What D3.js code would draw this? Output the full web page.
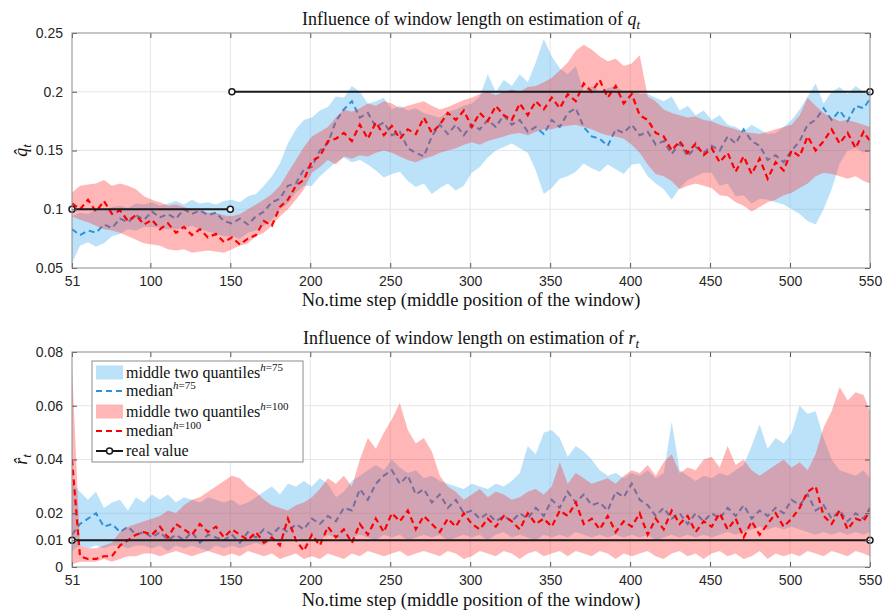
<!DOCTYPE html>
<html>
<head>
<meta charset="utf-8">
<script src="https://cdn.jsdelivr.net/npm/d3@7"></script>
<style>
  body { margin: 0; background: #fff; }
  svg { display: block; }
</style>
</head>
<body>
<div id="chart"></div>
<script>
// time steps (middle position of the window), sampled every 5 steps
const steps = d3.range(51, 547, 5).concat([550]);
const xTicks = [51, 100, 150, 200, 250, 300, 350, 400, 450, 500, 550];

// ---- q_t panel ----
const qTicks = [0.05, 0.1, 0.15, 0.2, 0.25];
const qTickLabels = ["0.05", "0.1", "0.15", "0.2", "0.25"];

const qBlueHi = [.094,.097,.096,.100,.099,.102,.103,.101,.105,.104,.106,.103,.105,.107,.104,.108,.105,.106,.104,.107,
  .108,.106,.111,.113,.120,.128,.139,.156,.168,.176,.178,.184,.187,.196,
  .195,.205,.200,.190,.192,.195,.185,.188,.184,.186,.182,.180,.178,.183,.185,.188,
  .190,.196,.215,.200,.210,.205,.215,.208,.225,.245,.230,.220,.215,.222,.200,.205,
  .200,.203,.205,.200,.201,.198,.198,.195,.192,.196,.184,.188,.180,.184,
  .176,.180,.172,.170,.166,.172,.168,.164,.165,.170,.176,.185,.196,.207,.190,.200,.204,.198,.205,.200,.198];
const qBlueLo = [.054,.069,.072,.068,.071,.077,.079,.083,.082,.085,.085,.084,.083,.083,.084,.086,.083,.081,.079,.077,
  .077,.075,.080,.082,.086,.091,.100,.105,.114,.120,.120,.128,.134,.140,
  .144,.140,.142,.138,.133,.127,.130,.132,.124,.119,.122,.113,.118,.122,.116,.120,
  .131,.136,.144,.150,.153,.156,.152,.148,.133,.113,.118,.126,.128,.132,.139,.135,
  .132,.138,.134,.130,.138,.139,.128,.122,.117,.108,.118,.125,.128,.131,
  .131,.120,.122,.111,.112,.105,.109,.108,.106,.104,.100,.096,.090,.087,.100,.117,.139,.150,.152,.148,.150];
const qBlueMed = [.083,.078,.082,.080,.087,.084,.092,.089,.095,.091,.098,.093,.096,.092,.100,.096,.099,.095,.097,.090,
  .088,.092,.087,.094,.098,.106,.109,.120,.122,.134,.136,.150,.156,.175,
  .185,.192,.178,.182,.170,.174,.163,.166,.152,.148,.145,.162,.172,.164,.172,.163,
  .172,.168,.176,.170,.180,.172,.176,.166,.170,.164,.176,.170,.182,.186,.170,.162,
  .160,.154,.168,.165,.172,.163,.166,.155,.158,.147,.156,.145,.153,.148,
  .154,.150,.162,.156,.168,.158,.154,.142,.146,.140,.150,.158,.172,.176,.186,.176,.184,.175,.188,.186,.194];
const qRedHi = [.114,.120,.121,.122,.125,.120,.122,.120,.117,.111,.108,.106,.103,.104,.102,.100,.099,.097,.097,.095,
  .094,.096,.100,.104,.108,.113,.120,.131,.142,.153,.162,.166,.170,.178,
  .185,.183,.186,.190,.188,.192,.190,.186,.188,.190,.192,.188,.185,.187,.190,.193,
  .195,.198,.200,.197,.200,.202,.200,.204,.205,.208,.212,.218,.225,.235,.240,.236,
  .230,.226,.228,.222,.224,.231,.196,.192,.185,.182,.180,.178,.179,.176,
  .175,.172,.170,.168,.166,.165,.164,.166,.168,.170,.172,.180,.195,.188,.182,.178,.175,.176,.174,.172,.170];
const qRedLo = [.094,.091,.089,.086,.083,.082,.080,.077,.074,.071,.070,.069,.066,.065,.066,.063,.064,.065,.064,.063,
  .066,.069,.071,.077,.080,.086,.094,.100,.108,.117,.131,.136,.142,.138,
  .145,.143,.146,.145,.148,.150,.148,.145,.142,.140,.143,.145,.148,.150,.152,.155,
  .157,.155,.158,.160,.162,.164,.165,.163,.166,.168,.168,.170,.171,.172,.170,.168,
  .165,.163,.162,.160,.155,.148,.138,.130,.128,.124,.117,.120,.122,.120,
  .118,.112,.111,.106,.103,.098,.102,.106,.108,.112,.114,.118,.122,.128,.131,.130,.128,.126,.128,.124,.122];
const qRedMed = [.105,.100,.108,.098,.107,.096,.099,.090,.095,.087,.091,.083,.088,.080,.085,.078,.083,.076,.079,.072,
  .076,.070,.075,.078,.090,.086,.102,.108,.120,.125,.141,.145,.158,.160,
  .165,.158,.172,.160,.174,.163,.171,.160,.168,.164,.178,.165,.172,.182,.176,.184,
  .170,.182,.175,.188,.180,.176,.190,.180,.192,.185,.195,.186,.198,.192,.207,.200,
  .210,.195,.205,.190,.198,.180,.176,.165,.162,.150,.158,.148,.156,.146,
  .152,.140,.148,.132,.145,.130,.143,.126,.140,.133,.150,.145,.162,.150,.158,.168,.156,.165,.152,.166,.158];
const qReal = [[[51, 0.1], [150, 0.1]], [[151, 0.2], [550, 0.2]]];

// ---- r_t panel ----
const rTicks = [0, 0.01, 0.02, 0.04, 0.06, 0.08];
const rTickLabels = ["0", "0.01", "0.02", "0.04", "0.06", "0.08"];

const rBlueHi = [.031,.028,.025,.028,.022,.024,.025,.021,.026,.024,
  .027,.025,.027,.024,.026,.025,.024,.026,.025,.024,
  .025,.023,.024,.026,.028,.030,.027,.031,.030,.032,
  .030,.033,.031,.026,.028,.032,.034,.036,.038,.036,
  .040,.037,.035,.036,.033,.034,.032,.031,.030,.029,
  .031,.030,.029,.031,.030,.032,.035,.045,.042,.050,
  .051,.048,.041,.045,.043,.040,.036,.034,.035,.033,
  .035,.034,.036,.033,.035,.054,.036,.034,.032,.034,
  .033,.035,.034,.036,.038,.045,.053,.044,.048,.046,
  .050,.060,.057,.058,.048,.040,.036,.035,.034,.036,.033];
const rBlueLo = [.006,.008,.007,.008,.007,.008,.008,.007,.008,.008,
  .007,.008,.006,.008,.007,.008,.007,.006,.008,.007,
  .008,.007,.008,.009,.008,.010,.009,.010,.011,.010,
  .011,.010,.012,.011,.010,.011,.012,.011,.010,.012,
  .011,.012,.010,.011,.012,.011,.012,.010,.011,.012,
  .011,.012,.010,.012,.013,.011,.012,.011,.010,.012,
  .011,.012,.011,.013,.012,.011,.012,.011,.012,.011,
  .012,.011,.012,.010,.011,.012,.011,.012,.011,.012,
  .011,.012,.013,.012,.013,.014,.015,.014,.015,.014,
  .015,.014,.013,.012,.013,.012,.013,.012,.013,.012,.013];
const rBlueMed = [.012,.016,.018,.020,.015,.016,.013,.015,.012,.013,
  .011,.013,.010,.012,.010,.013,.009,.012,.011,.010,
  .012,.009,.013,.011,.014,.012,.015,.013,.016,.014,
  .018,.016,.019,.017,.022,.021,.029,.025,.031,.034,
  .036,.031,.034,.027,.029,.024,.027,.022,.025,.020,
  .021,.018,.020,.017,.019,.017,.020,.018,.022,.019,
  .025,.022,.028,.024,.027,.023,.024,.021,.028,.026,
  .031,.025,.023,.019,.022,.018,.020,.016,.020,.017,
  .020,.018,.022,.019,.023,.018,.021,.019,.022,.020,
  .025,.023,.027,.021,.023,.018,.021,.017,.020,.018,.022];
const rRedHi = [.075,.008,.007,.007,.008,.009,.013,.015,.016,.017,
  .018,.019,.021,.020,.023,.025,.026,.028,.030,.032,
  .034,.033,.030,.028,.025,.023,.022,.021,.023,.024,
  .026,.029,.033,.031,.034,.030,.040,.048,.044,.050,
  .055,.061,.051,.046,.048,.043,.034,.030,.028,.025,
  .027,.029,.026,.028,.027,.025,.026,.028,.029,.027,
  .030,.039,.031,.035,.033,.031,.032,.033,.031,.034,
  .036,.035,.038,.034,.039,.042,.035,.037,.036,.040,
  .041,.037,.045,.038,.040,.036,.034,.036,.038,.040,
  .037,.039,.036,.042,.052,.058,.067,.062,.065,.064,.058];
const rRedLo = [.001,.002,.002,.002,.003,.002,.003,.004,.004,.005,
  .005,.004,.005,.006,.005,.004,.005,.006,.005,.004,
  .005,.004,.006,.005,.004,.005,.003,.004,.005,.003,
  .004,.003,.005,.004,.003,.005,.004,.006,.005,.004,
  .005,.006,.004,.005,.006,.005,.004,.006,.005,.003,
  .004,.006,.005,.004,.006,.005,.003,.005,.006,.004,
  .005,.006,.004,.006,.005,.004,.006,.005,.003,.005,
  .004,.005,.006,.004,.003,.005,.006,.004,.005,.003,
  .005,.006,.004,.005,.003,.004,.006,.003,.005,.004,
  .005,.004,.006,.005,.004,.006,.005,.004,.006,.005,.004];
const rRedMed = [.040,.004,.003,.003,.004,.004,.008,.010,.012,.013,
  .012,.015,.011,.016,.014,.012,.016,.013,.015,.011,
  .014,.012,.010,.013,.009,.011,.008,.018,.010,.006,
  .012,.008,.015,.011,.014,.009,.016,.012,.018,.013,
  .020,.017,.021,.014,.019,.016,.013,.018,.015,.020,
  .016,.014,.018,.015,.019,.017,.014,.020,.016,.018,
  .015,.021,.019,.024,.016,.018,.014,.019,.013,.017,
  .015,.020,.012,.018,.014,.021,.016,.019,.013,.017,
  .015,.020,.014,.018,.011,.017,.012,.016,.020,.015,
  .018,.022,.028,.030,.019,.016,.021,.014,.018,.017,.021];
const rReal = [[[51, 0.01], [550, 0.01]]];

const xLabelText = "No.time step (middle position of the window)";

const COLOR_BLUE_FILL = "#4db3f0";
const COLOR_RED_FILL = "#ff2a2a";
const COLOR_BLUE_LINE = "#3090d8";
const COLOR_RED_LINE = "#ff0000";
const SERIF = "'Liberation Serif', 'Times New Roman', serif";
const SANS = "'Liberation Sans', Arial, sans-serif";

const W = 887, H = 612;
const left = 72, right = 870;

const svg = d3.select("#chart").append("svg")
  .attr("width", W)
  .attr("height", H)
  .style("background", "#fff");

const x = d3.scaleLinear().domain([51, 550]).range([left, right]);

var panels = [
  { id: "q", top: 33, bottom: 268, domain: [0.05, 0.25], ticks: qTicks, tickLabels: qTickLabels,
    blueHi: qBlueHi, blueLo: qBlueLo, blueMed: qBlueMed, redHi: qRedHi, redLo: qRedLo, redMed: qRedMed,
    real: qReal, titleY: 25, xlabelY: 306 },
  { id: "r", top: 352, bottom: 567, domain: [0, 0.08], ticks: rTicks, tickLabels: rTickLabels,
    blueHi: rBlueHi, blueLo: rBlueLo, blueMed: rBlueMed, redHi: rRedHi, redLo: rRedLo, redMed: rRedMed,
    real: rReal, titleY: 344, xlabelY: 606 }
];

panels.forEach(p => {
  var y = d3.scaleLinear().domain(p.domain).range([p.bottom, p.top]);
  var g = svg.append("g");

  g.append("clipPath").attr("id", "clip-" + p.id)
    .append("rect")
    .attr("x", left).attr("y", p.top)
    .attr("width", right - left).attr("height", p.bottom - p.top);

  // grid
  g.append("g").selectAll("line")
    .data(xTicks.slice(1, -1))
    .join("line")
    .attr("x1", d => x(d)).attr("x2", d => x(d))
    .attr("y1", p.top).attr("y2", p.bottom)
    .attr("stroke", "#e6e6e6");
  g.append("g").selectAll("line")
    .data(p.ticks.slice(1, -1))
    .join("line")
    .attr("x1", left).attr("x2", right)
    .attr("y1", d => y(d)).attr("y2", d => y(d))
    .attr("stroke", "#e6e6e6");

  var rows = steps.map((t, i) => ({
    t: t,
    bHi: p.blueHi[i], bLo: p.blueLo[i], bMed: p.blueMed[i],
    rHi: p.redHi[i], rLo: p.redLo[i], rMed: p.redMed[i]
  }));

  var plot = g.append("g").attr("clip-path", "url(#clip-" + p.id + ")");

  var area = (lo, hi) => d3.area().x(d => x(d.t)).y0(d => y(d[lo])).y1(d => y(d[hi]));
  var line = key => d3.line().x(d => x(d.t)).y(d => y(d[key]));

  plot.append("path").datum(rows)
    .attr("d", area("bLo", "bHi"))
    .attr("fill", COLOR_BLUE_FILL).attr("fill-opacity", 0.38);
  plot.append("path").datum(rows)
    .attr("d", line("bMed"))
    .attr("fill", "none").attr("stroke", COLOR_BLUE_LINE)
    .attr("stroke-width", 2).attr("stroke-dasharray", "6,4");
  plot.append("path").datum(rows)
    .attr("d", area("rLo", "rHi"))
    .attr("fill", COLOR_RED_FILL).attr("fill-opacity", 0.34);
  plot.append("path").datum(rows)
    .attr("d", line("rMed"))
    .attr("fill", "none").attr("stroke", COLOR_RED_LINE)
    .attr("stroke-width", 2.2).attr("stroke-dasharray", "6,4");

  // real value
  p.real.forEach(seg => {
    g.append("path").datum(seg)
      .attr("d", d3.line().x(d => x(d[0])).y(d => y(d[1])))
      .attr("fill", "none").attr("stroke", "#1a1a1a").attr("stroke-width", 2);
    g.selectAll(null).data(seg).join("circle")
      .attr("cx", d => x(d[0])).attr("cy", d => y(d[1])).attr("r", 3)
      .attr("fill", "#fff").attr("stroke", "#1a1a1a").attr("stroke-width", 1.5);
  });

  // axes (ticks pointing inward, box all around)
  var fmt = (d, i) => p.tickLabels[i];
  var styleAxis = sel => {
    sel.select(".domain").remove();
    sel.selectAll(".tick line").attr("stroke", "#555");
    sel.selectAll("text").attr("fill", "#262626").style("font", "14px " + SANS);
  };
  g.append("g").attr("transform", `translate(0,${p.bottom})`)
    .call(d3.axisBottom(x).tickValues(xTicks).tickSize(-5).tickPadding(8))
    .call(styleAxis);
  g.append("g").attr("transform", `translate(0,${p.top})`)
    .call(d3.axisTop(x).tickValues(xTicks).tickSize(-5).tickFormat(""))
    .call(styleAxis);
  g.append("g").attr("transform", `translate(${left},0)`)
    .call(d3.axisLeft(y).tickValues(p.ticks).tickFormat(fmt).tickSize(-5).tickPadding(9))
    .call(styleAxis);
  g.append("g").attr("transform", `translate(${right},0)`)
    .call(d3.axisRight(y).tickValues(p.ticks).tickSize(-5).tickFormat(""))
    .call(styleAxis);

  g.append("rect")
    .attr("x", left).attr("y", p.top)
    .attr("width", right - left).attr("height", p.bottom - p.top)
    .attr("fill", "none").attr("stroke", "#8c8c8c");

  // title
  var title = g.append("text")
    .attr("x", (left + right) / 2).attr("y", p.titleY)
    .attr("text-anchor", "middle")
    .style("font", "18px " + SERIF).attr("fill", "#111");
  title.append("tspan").text("Influence of window length on estimation of ");
  title.append("tspan").attr("font-style", "italic").text(p.id);
  title.append("tspan").attr("font-style", "italic").attr("font-size", 13).attr("dy", 4).text("t");

  // x label
  g.append("text")
    .attr("x", (left + right) / 2).attr("y", p.xlabelY)
    .attr("text-anchor", "middle")
    .style("font", "18.5px " + SERIF).attr("fill", "#111")
    .text(xLabelText);

  // y label
  var yl = g.append("text")
    .attr("transform", `translate(27,${(p.top + p.bottom) / 2}) rotate(-90)`)
    .attr("text-anchor", "middle")
    .style("font", "italic 18px " + SERIF).attr("fill", "#111");
  yl.append("tspan").text(p.id + "\u0302");
  yl.append("tspan").attr("font-size", 13).attr("dy", 4).text("t");
});

// legend (bottom panel)
var legendItems = [
  { kind: "patch", color: COLOR_BLUE_FILL, op: 0.38, label: "middle two quantiles", sup: "75" },
  { kind: "dash", color: COLOR_BLUE_LINE, label: "median", sup: "75" },
  { kind: "patch", color: COLOR_RED_FILL, op: 0.34, label: "middle two quantiles", sup: "100" },
  { kind: "dash", color: COLOR_RED_LINE, label: "median", sup: "100" },
  { kind: "real", color: "#1a1a1a", label: "real value" }
];
var legendRowY = [372.5, 391, 411.5, 431, 451];

var lg = svg.append("g");
lg.append("rect")
  .attr("x", 92).attr("y", 361).attr("width", 211).attr("height", 101)
  .attr("fill", "#fff").attr("stroke", "#8c8c8c");

legendItems.forEach((it, i) => {
  var cy = legendRowY[i];
  if (it.kind === "patch") {
    lg.append("rect").attr("x", 96).attr("y", cy - 7).attr("width", 27).attr("height", 14)
      .attr("fill", it.color).attr("fill-opacity", it.op);
  } else if (it.kind === "dash") {
    lg.append("line").attr("x1", 96).attr("x2", 123).attr("y1", cy).attr("y2", cy)
      .attr("stroke", it.color).attr("stroke-width", 2).attr("stroke-dasharray", "6,4");
  } else {
    lg.append("line").attr("x1", 96).attr("x2", 123).attr("y1", cy).attr("y2", cy)
      .attr("stroke", it.color).attr("stroke-width", 2);
    lg.append("circle").attr("cx", 109.5).attr("cy", cy).attr("r", 3)
      .attr("fill", "#fff").attr("stroke", it.color).attr("stroke-width", 1.5);
  }
  var tx = lg.append("text").attr("x", 126).attr("y", cy + 5)
    .style("font", "16px " + SERIF).attr("fill", "#111");
  tx.append("tspan").text(it.label);
  if (it.sup) {
    tx.append("tspan").attr("font-size", 11).attr("dy", -7).attr("font-style", "italic").text("h");
    tx.append("tspan").attr("font-size", 11).text("=" + it.sup);
  }
});
</script>
</body>
</html>
